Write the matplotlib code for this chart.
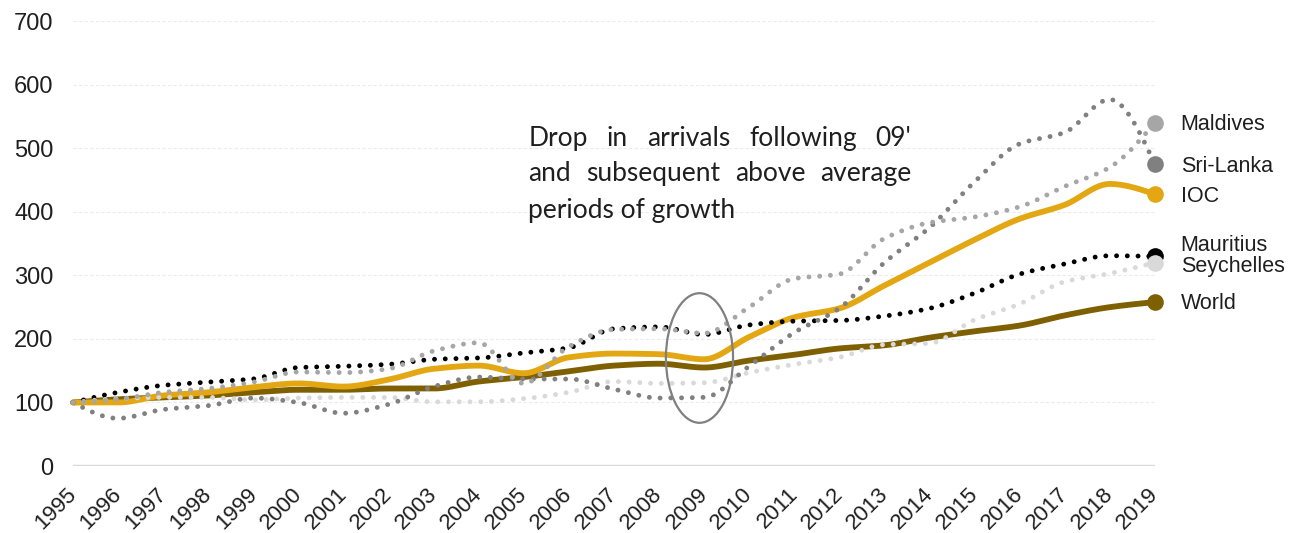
import numpy as np
import matplotlib
matplotlib.use("Agg")
import matplotlib.pyplot as plt
from matplotlib.patches import Ellipse
from matplotlib.transforms import ScaledTranslation

# ---- data (index, 1995 = 100) ----
years = list(range(1995, 2020))
world = [100, 105, 108, 111, 116, 120, 120, 122, 122, 133, 140, 149, 158,
         161, 155, 166, 175, 185, 190, 202, 212, 221, 237, 250, 258]
ioc = [100, 100, 111, 116, 124, 130, 125, 136, 153, 158, 146, 171, 177,
       176, 168, 203, 234, 248, 284, 320, 356, 389, 411, 444, 428]
mauritius = [100, 116, 127, 132, 137, 155, 157, 160, 168, 170, 178, 186, 216,
             219, 207, 222, 228, 229, 236, 248, 272, 302, 318, 331, 330]
seychelles = [100, 106, 108, 108, 104, 107, 108, 108, 101, 101, 106, 116, 133,
              130, 131, 147, 160, 171, 191, 193, 230, 255, 290, 303, 320]
sri_lanka = [100, 75, 89, 95, 107, 100, 83, 97, 125, 140, 137, 137, 121,
             107, 108, 157, 210, 248, 320, 375, 447, 507, 525, 577, 476]
maldives = [100, 105, 116, 122, 132, 148, 147, 153, 181, 194, 130, 188, 215,
            216, 209, 250, 295, 302, 358, 383, 392, 408, 440, 470, 540]

series_names = ["World", "IOC", "Mauritius", "Seychelles", "Sri-Lanka", "Maldives"]
y_ticks = [0, 100, 200, 300, 400, 500, 600, 700]
note_lines = ["Drop in arrivals following 09'",
              "and subsequent above average",
              "periods of growth"]

# ---- styling ----
colors = {"World": "#7f6000", "IOC": "#e3a714", "Mauritius": "#000000",
          "Seychelles": "#d9d9d9", "Sri-Lanka": "#808080", "Maldives": "#a6a6a6"}
dotted = {"World": False, "IOC": False, "Mauritius": True,
          "Seychelles": True, "Sri-Lanka": True, "Maldives": True}
label_pos = {"Maldives": 538, "Sri-Lanka": 472, "IOC": 425,
             "Mauritius": 347, "Seychelles": 314, "World": 256}
values = {"World": world, "IOC": ioc, "Mauritius": mauritius,
          "Seychelles": seychelles, "Sri-Lanka": sri_lanka, "Maldives": maldives}

plt.rcParams["font.family"] = ["Liberation Sans", "DejaVu Sans"]
TEXT = "#1f1f1f"


def monotone_curve(x, y, n=30):
    """Monotone cubic (Fritsch-Butland) interpolation, like curveMonotoneX."""
    x = np.asarray(x, float)
    y = np.asarray(y, float)
    h = np.diff(x)
    d = np.diff(y) / h
    m = np.zeros_like(y)
    for k in range(1, len(y) - 1):
        if d[k - 1] * d[k] <= 0:
            m[k] = 0.0
        else:
            w1 = 2 * h[k] + h[k - 1]
            w2 = h[k] + 2 * h[k - 1]
            m[k] = (w1 + w2) / (w1 / d[k - 1] + w2 / d[k])
    m[0] = (3 * d[0] - m[1]) / 2
    m[-1] = (3 * d[-1] - m[-2]) / 2
    xs, ys = [], []
    for k in range(len(x) - 1):
        t = np.linspace(0, 1, n, endpoint=False)
        h00 = 2 * t**3 - 3 * t**2 + 1
        h10 = t**3 - 2 * t**2 + t
        h01 = -2 * t**3 + 3 * t**2
        h11 = t**3 - t**2
        xs.append(x[k] + t * h[k])
        ys.append(h00 * y[k] + h10 * h[k] * m[k] + h01 * y[k + 1] + h11 * h[k] * m[k + 1])
    xs.append([x[-1]])
    ys.append([y[-1]])
    return np.concatenate(xs), np.concatenate(ys)


fig = plt.figure(figsize=(12.93, 5.33), dpi=100)
ax = fig.add_axes([0.0565, 0.1257, 0.8365, 0.8343])
ax.set_xlim(1995, 2019)
ax.set_ylim(0, 700)

# grid
for v in y_ticks[1:]:
    ax.axhline(v, color="#ebebeb", lw=0.8, ls=(0, (3, 2)), zorder=0)
ax.axhline(0, color="#d9d9d9", lw=2.5, zorder=1)

for s in ax.spines.values():
    s.set_visible(False)

ax.set_yticks(y_ticks)
ax.set_yticklabels([str(v) for v in y_ticks], fontsize=17, color=TEXT)
ax.tick_params(axis="y", length=0, pad=14)
ax.set_xticks(years)
ax.set_xticklabels([str(y) for y in years], fontsize=16, color=TEXT,
                   rotation=45, ha="right", va="top", rotation_mode="anchor")
ax.tick_params(axis="x", length=0, pad=13)
for lab in ax.get_xticklabels():
    lab.set_transform(lab.get_transform() + ScaledTranslation(-7 / 100, 0, fig.dpi_scale_trans))

# lines: solids first, dotted on top
draw_order = ["World", "IOC", "Mauritius", "Seychelles", "Sri-Lanka", "Maldives"]
for z, name in enumerate(draw_order):
    xs, ys = monotone_curve(years, values[name])
    if dotted[name]:
        ax.plot(xs, ys, color=colors[name], lw=3.5, ls=(0, (0.01, 2.2)),
                dash_capstyle="round", solid_capstyle="round", zorder=3 + z,
                clip_on=False)
    else:
        ax.plot(xs, ys, color=colors[name], lw=4.2, solid_capstyle="round",
                zorder=3 + z, clip_on=False)

# end markers and labels
marker_order = ["World", "IOC", "Sri-Lanka", "Maldives", "Mauritius", "Seychelles"]
for z, name in enumerate(marker_order):
    ax.plot([years[-1]], [values[name][-1]], "o", ms=12, color=colors[name],
            mec="none", zorder=20 + z, clip_on=False)
for name in series_names:
    ax.annotate(name, xy=(years[-1], label_pos[name]), xytext=(26, 0),
                textcoords="offset pixels", ha="left", va="center",
                fontsize=15.5, color=TEXT, annotation_clip=False)

# highlight around 2009
ax.add_patch(Ellipse((2008.9, 170), width=1.49, height=204, fill=False,
                     ec="#808080", lw=1.6, zorder=30))

# justified note
fig.canvas.draw()
renderer = fig.canvas.get_renderer()
left_px = ax.transData.transform((2005.1, 0))[0]
right_px = ax.transData.transform((2013.6, 0))[0]
note_y = [516, 460, 402]
note_font = dict(fontsize=19, color=TEXT, family=["Lato", "DejaVu Sans"])
for i, (line, yv) in enumerate(zip(note_lines, note_y)):
    y_px = ax.transData.transform((0, yv))[1]
    words = line.split(" ")
    if i == len(note_lines) - 1:
        fig.text(left_px / fig.bbox.width, y_px / fig.bbox.height, line,
                 ha="left", va="center", **note_font)
        continue
    tmp = [fig.text(0, 0, w, **note_font) for w in words]
    widths = [t.get_window_extent(renderer).width for t in tmp]
    for t in tmp:
        t.remove()
    gap = (right_px - left_px - sum(widths)) / (len(words) - 1)
    x = left_px
    for w, wd in zip(words, widths):
        fig.text(x / fig.bbox.width, y_px / fig.bbox.height, w,
                 ha="left", va="center", **note_font)
        x += wd + gap

fig.savefig("out.png", dpi=100, facecolor="white")
